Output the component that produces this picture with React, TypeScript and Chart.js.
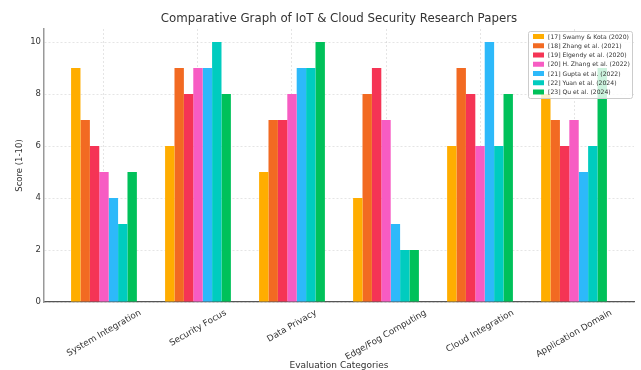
import React, { useEffect, useRef } from "react";
import { Chart, registerables } from "chart.js";

Chart.register(...registerables);

const categories = [
  "System Integration",
  "Security Focus",
  "Data Privacy",
  "Edge/Fog Computing",
  "Cloud Integration",
  "Application Domain",
];

const paperLabels = [
  "[17] Swamy & Kota (2020)",
  "[18] Zhang et al. (2021)",
  "[19] Elgendy et al. (2020)",
  "[20] H. Zhang et al. (2022)",
  "[21] Gupta et al. (2022)",
  "[22] Yuan et al. (2024)",
  "[23] Qu et al. (2024)",
];

const paperColors = ["#FFAD00", "#F26A22", "#F53455", "#F75CC3", "#2DB9FA", "#00CCBF", "#00C15A"];

const swamyKota = [9, 6, 5, 4, 6, 8];
const zhang = [7, 9, 7, 8, 9, 7];
const elgendy = [6, 8, 7, 9, 8, 6];
const hZhang = [5, 9, 8, 7, 6, 7];
const gupta = [4, 9, 9, 3, 10, 5];
const yuan = [3, 10, 9, 2, 6, 6];
const qu = [5, 8, 10, 2, 8, 9];

const yTicks = [0, 2, 4, 6, 8, 10];

const seriesValues = [swamyKota, zhang, elgendy, hZhang, gupta, yuan, qu];

const chartTitle = "Comparative Graph of IoT & Cloud Security Research Papers";
const xTitle = "Evaluation Categories";
const yTitle = "Score (1-10)";

const FONT = '"DejaVu Sans", sans-serif';
const TEXT = "#333333";

const overlayPlugin = {
  id: "overlay",
  afterDraw(chart: any) {
    const { ctx, chartArea } = chart;
    const xs = chart.scales.x;
    ctx.save();
    // Title
    ctx.fillStyle = TEXT;
    ctx.font = `11.8px ${FONT}`;
    ctx.textAlign = "center";
    ctx.textBaseline = "middle";
    ctx.fillText(chartTitle, (chartArea.left + chartArea.right) / 2, 19);

    // X tick labels (rotated, centered)
    ctx.font = `8.8px ${FONT}`;
    const h = 9.5;
    categories.forEach((c, i) => {
      const x = xs.getPixelForValue(i);
      const w = ctx.measureText(c).width;
      const bboxH = w * 0.5 + h * 0.866;
      const cy = chartArea.bottom + 6 + bboxH / 2;
      ctx.save();
      ctx.translate(x, cy);
      ctx.rotate(-Math.PI / 6);
      ctx.textAlign = "center";
      ctx.textBaseline = "middle";
      ctx.fillText(c, 0, 0);
      ctx.restore();
    });

    // X title
    ctx.font = `9px ${FONT}`;
    ctx.textAlign = "center";
    ctx.textBaseline = "middle";
    ctx.fillText(xTitle, (chartArea.left + chartArea.right) / 2, 366);

    // Legend
    const bx = 528, by = 31, bw = 104, bh = 67;
    ctx.fillStyle = "rgba(255,255,255,0.8)";
    ctx.strokeStyle = "#cccccc";
    ctx.lineWidth = 1;
    ctx.beginPath();
    (ctx as any).roundRect(bx + 0.5, by + 0.5, bw, bh, 2);
    ctx.fill();
    ctx.stroke();
    ctx.font = `6.1px ${FONT}`;
    ctx.textAlign = "left";
    ctx.textBaseline = "middle";
    chart.data.datasets.forEach((ds: any, k: number) => {
      const cy = 36.5 + k * 9.25;
      ctx.fillStyle = ds.backgroundColor;
      ctx.fillRect(533, cy - 2.5, 11, 5);
      ctx.fillStyle = TEXT;
      ctx.fillText(ds.label, 548, cy + 0.5);
    });
    ctx.restore();
  },
};

export default function App() {
  const ref = useRef<HTMLCanvasElement | null>(null);

  useEffect(() => {
    document.body.style.margin = "0";
    if (!ref.current) return;
    const chart = new Chart(ref.current, {
      type: "bar",
      data: {
        datasets: seriesValues.map((vals, k) => ({
          label: paperLabels[k],
          data: vals.map((v, i) => ({ x: i, y: v })),
          backgroundColor: paperColors[k],
          borderWidth: 0,
          categoryPercentage: 0.7,
          barPercentage: 1.0,
        })),
      },
      options: {
        responsive: false,
        animation: false,
        layout: { padding: { left: 0, right: 7, top: 29, bottom: 0 } },
        plugins: {
          legend: { display: false },
          title: { display: false },
          tooltip: { enabled: false },
        },
        scales: {
          x: {
            type: "linear",
            offset: false,
            min: -0.638,
            max: 5.638,
            afterBuildTicks: (scale: any) => {
              scale.ticks = categories.map((_, i) => ({ value: i }));
            },
            afterFit: (scale: any) => {
              scale.height = 68;
            },
            ticks: { display: false },
            grid: {
              offset: false,
              color: "rgba(0,0,0,0.1)",
              drawTicks: false,
            },
            border: { display: true, color: "#555555", width: 1.2, dash: [2, 2] } as any,
          },
          y: {
            min: 0,
            max: 10.5,
            afterBuildTicks: (scale: any) => {
              scale.ticks = yTicks.map((v) => ({ value: v }));
            },
            afterFit: (scale: any) => {
              scale.width = 44;
            },
            ticks: {
              color: TEXT,
              font: { family: FONT, size: 8.5 },
              padding: 3,
            },
            grid: {
              color: "rgba(0,0,0,0.1)",
              drawTicks: false,
            },
            border: { display: true, color: "#999999", width: 1.5, dash: [2, 2] } as any,
            title: {
              display: true,
              text: yTitle,
              color: TEXT,
              font: { family: FONT, size: 8.5 },
              padding: { top: 15, bottom: 0 },
            },
          },
        },
      },
      plugins: [overlayPlugin],
    } as any);
    return () => chart.destroy();
  }, []);

  return <canvas ref={ref} width={641} height={370} style={{ display: "block" }} />;
}
